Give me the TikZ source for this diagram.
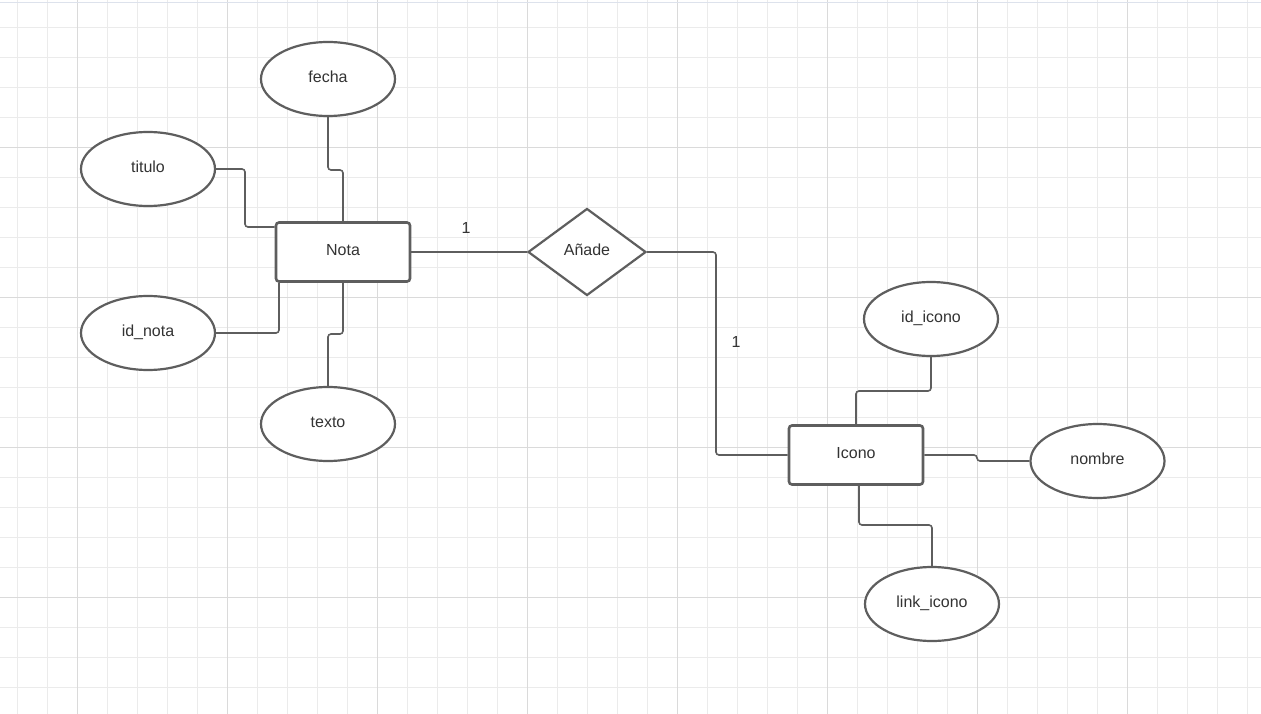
\documentclass[tikz,border=0pt]{standalone}
\usepackage{fontspec}
\setmainfont{Liberation Sans}
\usetikzlibrary{shapes.geometric}
\definecolor{ln}{HTML}{5E5E5E}
\definecolor{tx}{HTML}{333333}
\definecolor{gminor}{HTML}{EBEBEB}
\definecolor{gmajor}{HTML}{DADADA}
\definecolor{topl}{HTML}{DDE2EC}
\begin{document}
\begin{tikzpicture}[x=1pt,y=-1pt,
  font=\fontsize{16}{19}\selectfont, text=tx,
  txt/.style={text height=12pt, text depth=5pt},
  attr/.style={ellipse, txt, draw=ln, line width=2.2pt, fill=white, minimum width=134pt, minimum height=74pt, inner sep=0pt},
  ent/.style={rectangle, txt, rounded corners=3pt, draw=ln, line width=2.6pt, fill=white, minimum width=134pt, minimum height=59pt, inner sep=0pt},
  rel/.style={diamond, txt, draw=ln, line width=2.2pt, fill=white, minimum width=118pt, minimum height=87pt, inner sep=0pt, aspect=1.36},
  conn/.style={draw=ln, line width=1.6pt, rounded corners=3pt},
  lbl/.style={text=tx}]
\useasboundingbox (0,0) rectangle (1261,714);
\fill[white] (0,0) rectangle (1261,714);
% grid
\foreach \x in {17,47,...,1261} \draw[gminor, line width=0.8pt] (\x,0) -- (\x,714);
\foreach \y in {27,57,...,714} \draw[gminor, line width=0.8pt] (0,\y) -- (1261,\y);
\foreach \x in {77,227,...,1261} \draw[gmajor, line width=0.9pt] (\x,0) -- (\x,714);
\foreach \y in {147,297,...,714} \draw[gmajor, line width=0.9pt] (0,\y) -- (1261,\y);
\draw[topl, line width=1.2pt] (0,2.5) -- (1261,2.5);
% nodes
\node[attr] (fecha) at (328,79) {fecha};
\node[attr] (titulo) at (148,169) {titulo};
\node[attr] (idnota) at (148,333) {id\_nota};
\node[attr] (texto) at (328,424) {texto};
\node[ent] (nota) at (343,252) {Nota};
\node[rel] (anade) at (587,252) {Añade};
\node[ent] (icono) at (856,455) {Icono};
\node[attr] (idicono) at (931,319) {id\_icono};
\node[attr] (nombre) at (1097.5,461) {nombre};
\node[attr] (link) at (932,604) {link\_icono};
\node[lbl] (card1) at (466,228) {1};
\node[lbl] (card2) at (736,342) {1};
% connectors
\draw[conn] (titulo.east) -- (245,169) -- (245,227) -- (nota.west |- 0,227);
\draw[conn] (fecha.south) -- (328,170) -- (343,170) -- (nota.north);
\draw[conn] (idnota.east) -- (279,333) -- (nota.south west -| 279,0);
\draw[conn] (texto.north) -- (328,334) -- (343,334) -- (nota.south);
\draw[conn] (nota.east) -- (anade.west);
\draw[conn] (anade.east) -- (716,252) -- (716,455) -- (icono.west);
\draw[conn] (icono.north) -- (856,391) -- (931,391) -- (idicono.south);
\draw[conn] (icono.east) -- (977,455) -- (977,461) -- (nombre.west);
\draw[conn] (icono.south -| 859,0) -- (859,525) -- (932,525) -- (link.north);
\end{tikzpicture}
\end{document}
